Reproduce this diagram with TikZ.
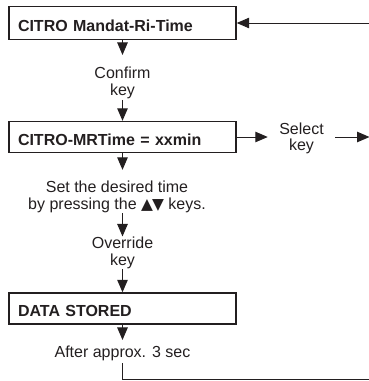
\documentclass[tikz,border=0pt]{standalone}
\usepackage{fontspec}
\setmainfont{Liberation Sans}
\newfontfamily\symfont{DejaVu Sans}
\usetikzlibrary{arrows.meta}
\definecolor{ink}{HTML}{231F20}
\begin{document}
\begin{tikzpicture}[x=1pt,y=-1pt,
  box/.style={draw=ink, line width=1.4pt, minimum width=227pt, minimum height=31pt,
    inner xsep=9pt, text width=209pt, align=left, text=ink,
    font=\fontsize{16}{17}\selectfont\bfseries, text height=16pt, text depth=0pt},
  lbl/.style={align=center, inner sep=0pt, text=ink, font=\fontsize{16}{17}\selectfont},
  conn/.style={draw=ink, line width=1pt},
  arr/.style={conn, -{Triangle[length=12.5pt,width=10.5pt]}},
]
\useasboundingbox (0,0) rectangle (368,381);

% boxes
\node[box, minimum height=33pt] (b1) at (122.5,23) {CITRO Mandat-Ri-Time};
\node[box] (b2) at (122.5,137) {CITRO-MRTime = xxmin};
\node[box] (b3) at (122.5,308.5) {DATA STORED};

% labels
\node[lbl] (t1) at (122.5,82.6) {Confirm\\key};
\node[lbl] (t2) at (117,197.3) {Set the desired time\\by pressing the {\symfont\fontsize{15.5}{17}\selectfont ▲\kern-1pt▼} keys.};
\node[lbl] (t3) at (122.5,252.6) {Override\\key};
\node[lbl] (t4) at (122.5,353.4) {After approx. 3 sec};
\node[lbl, font=\fontsize{16}{16}\selectfont] (t5) at (301.5,138.8) {Select\\key};

% free ends at the right edge
\coordinate (rtop) at (370,23);
\coordinate (rsel) at (369.5,137);
\coordinate (rbot) at (370,379);

% connectors
\draw[arr, shorten >=11.5pt] (b1.south) -- (b1.south |- t1.north);
\draw[arr, shorten <=1pt] (b1.south |- t1.south) -- (b2.north);
\draw[arr, shorten >=11.3pt] (b2.south) -- (b2.south |- t2.north);
\draw[arr] (b2.south |- t2.south) -- (b2.south |- t3.north);
\draw[arr] (b3.north |- t3.south) -- (b3.north);
\draw[arr, shorten >=5.8pt] (b3.south) -- (t4.north);
\draw[conn, shorten <=2pt] (t4.south) |- (rbot);
\draw[arr] (rtop) -- (b1.east);
\draw[arr, shorten >=11.3pt] (b2.east) -- (b2.east -| t5.west);
\draw[arr, shorten <=11.3pt] (t5.east |- rsel) -- (rsel);
\end{tikzpicture}
\end{document}
